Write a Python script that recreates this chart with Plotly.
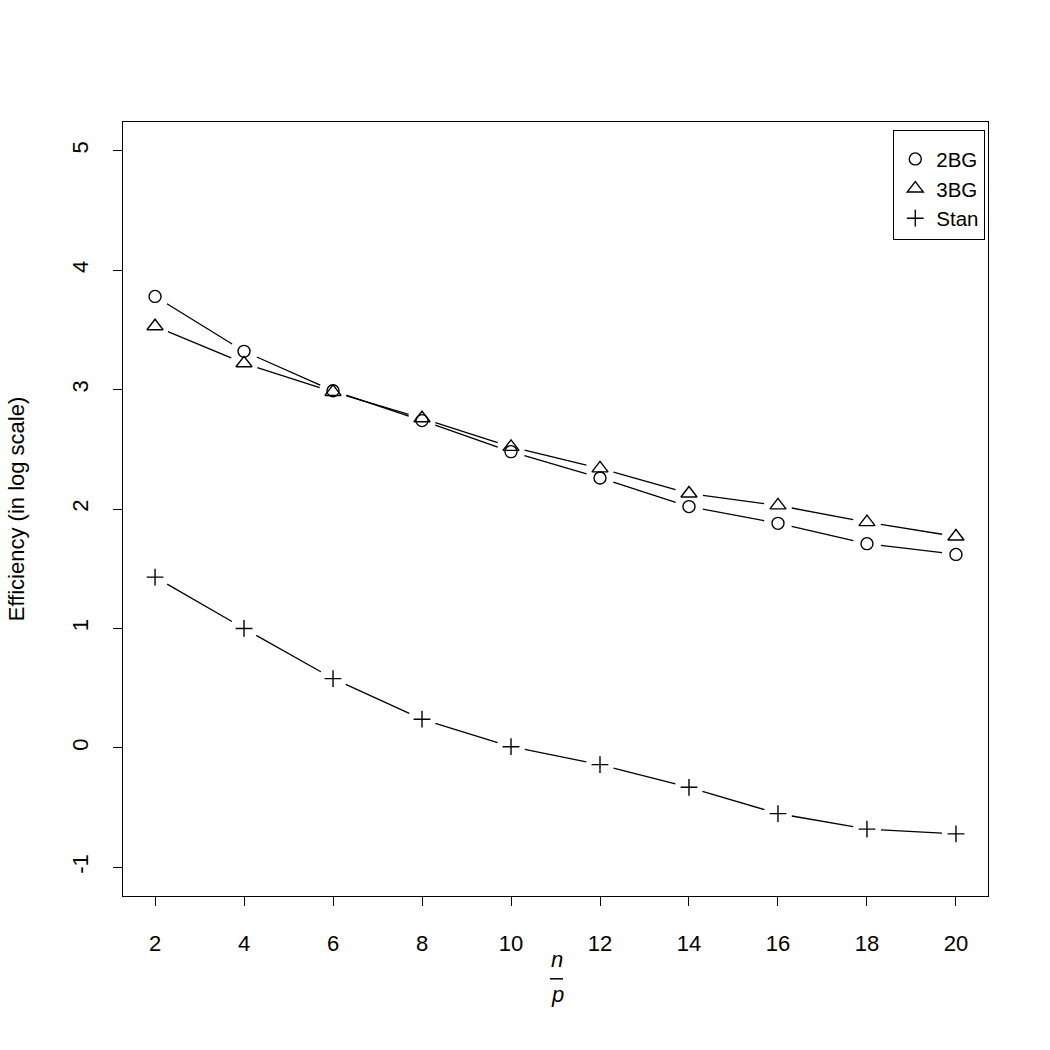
import math
import plotly.graph_objects as go

x_vals = [2, 4, 6, 8, 10, 12, 14, 16, 18, 20]
bg2 = [3.78, 3.32, 2.99, 2.74, 2.48, 2.26, 2.02, 1.88, 1.71, 1.62]
bg3 = [3.53, 3.22, 2.98, 2.76, 2.52, 2.34, 2.13, 2.03, 1.89, 1.77]
stan = [1.43, 1.00, 0.58, 0.24, 0.01, -0.14, -0.33, -0.55, -0.68, -0.72]
y_ticks = [-1, 0, 1, 2, 3, 4, 5]
y_ticklabels = ["-1", "0", "1", "2", "3", "4", "5"]

series = [
    ("2BG", bg2, "circle-open", 12),
    ("3BG", bg3, "triangle-up-open", 14),
    ("Stan", stan, "cross-thin-open", 12),
]

FONT = "Liberation Sans, Arial"
XR = [1.28, 20.72]
YR = [-1.24, 5.24]
W, H = 1050, 1050
ML, MR, MT, MB = 123, 62, 122, 154
GAP_PX = 14  # gap around each point, as in R's type="b"

# pixel scale of the plotting region (to shorten segments like R does)
sx = (W - ML - MR) / (XR[1] - XR[0])
sy = (H - MT - MB) / (YR[1] - YR[0])


def gapped(xs, ys):
    gx, gy = [], []
    for i in range(len(xs) - 1):
        x0, y0, x1, y1 = xs[i], ys[i], xs[i + 1], ys[i + 1]
        L = math.hypot((x1 - x0) * sx, (y1 - y0) * sy)
        if L <= 2 * GAP_PX:
            continue
        f = GAP_PX / L
        gx += [x0 + (x1 - x0) * f, x1 - (x1 - x0) * f, None]
        gy += [y0 + (y1 - y0) * f, y1 - (y1 - y0) * f, None]
    return gx, gy


fig = go.Figure()
for name, ys, sym, sz in series:
    lx, ly = gapped(x_vals, ys)
    fig.add_trace(go.Scatter(x=lx, y=ly, mode="lines", showlegend=False,
                             connectgaps=False,
                             line=dict(color="black", width=1.3), hoverinfo="skip"))
for name, ys, sym, sz in series:
    fig.add_trace(go.Scatter(x=x_vals, y=ys, mode="markers", name=name,
                             marker=dict(symbol=sym, size=sz, color="black",
                                         line=dict(color="black", width=1.4))))

axis_common = dict(
    showline=True, linecolor="black", linewidth=1.3, mirror=True,
    ticks="outside", ticklen=9, tickwidth=1.3, tickcolor="black",
    showgrid=False, zeroline=False, automargin=False,
    tickfont=dict(family=FONT, size=22, color="black"),
)

fig.update_layout(
    xaxis=dict(range=XR, tickvals=x_vals, ticktext=[str(v) for v in x_vals],
               ticklabelstandoff=18, **axis_common),
    yaxis=dict(range=YR, tickvals=y_ticks, ticktext=y_ticklabels,
               tickangle=-90, ticklabelstandoff=16,
               title=dict(text="Efficiency (in log scale)", standoff=37,
                          font=dict(family=FONT, size=22, color="black")),
               **axis_common),
)

# fraction n/p as x-axis title
fig.add_annotation(text="<i>n</i>", x=0.502, y=-0.082, xref="paper", yref="paper",
                   showarrow=False, font=dict(family=FONT, size=22, color="black"),
                   yanchor="middle")
fig.add_shape(type="line", xref="paper", yref="paper", x0=0.4936, x1=0.5087,
              y0=-0.107, y1=-0.107, line=dict(color="black", width=1.5))
fig.add_annotation(text="<i>p</i>", x=0.502, y=-0.127, xref="paper", yref="paper",
                   showarrow=False, font=dict(family=FONT, size=22, color="black"),
                   yanchor="middle")

fig.update_layout(
    width=W, height=H,
    margin=dict(l=ML, r=MR, t=MT, b=MB),
    paper_bgcolor="white", plot_bgcolor="white",
    font=dict(family=FONT, color="black"),
    legend=dict(x=0.9965, y=0.9897, xanchor="right", yanchor="top",
                bordercolor="black", borderwidth=1.3, bgcolor="white",
                font=dict(family=FONT, size=20.5, color="black"),
                title=dict(text=" ", font=dict(size=6)),
                itemwidth=32, tracegroupgap=0),
)

fig.write_html("out.html")
